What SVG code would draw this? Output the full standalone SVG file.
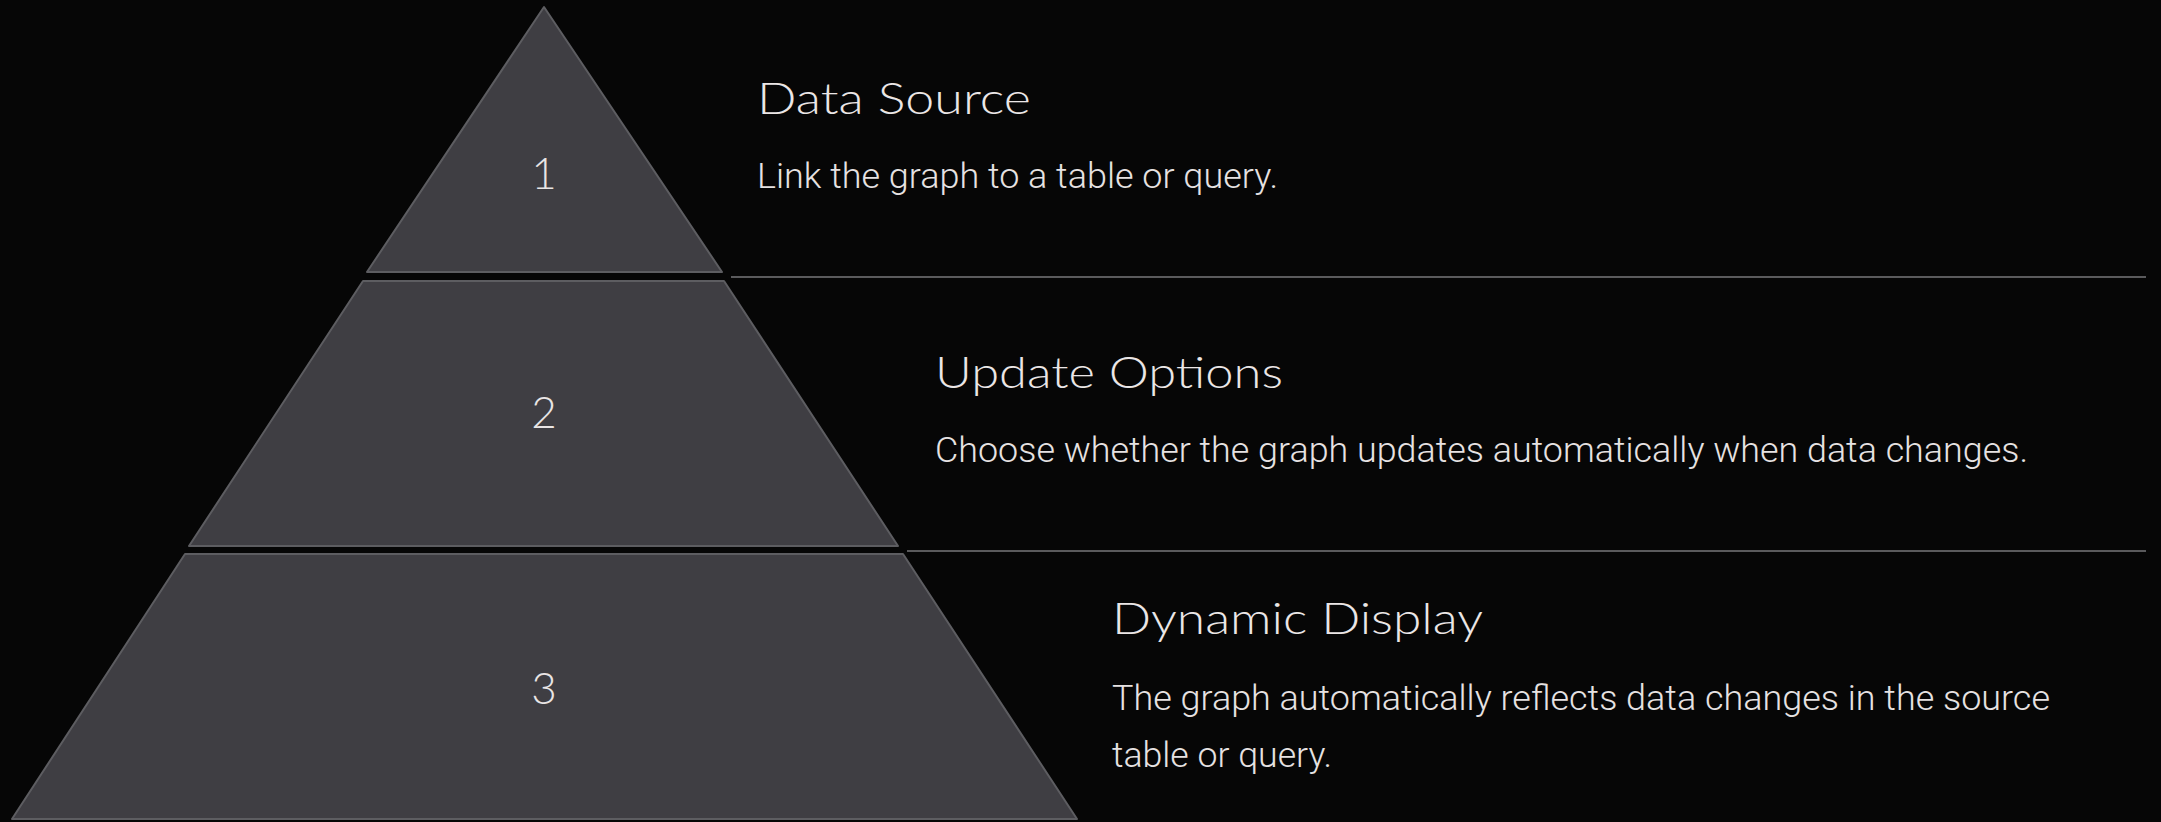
<svg xmlns="http://www.w3.org/2000/svg" width="2161" height="822" viewBox="0 0 2161 822">
<style>
.tier{fill:#3f3e43;stroke:#5d5d61;stroke-width:2;stroke-linejoin:round}
.num{font-family:"Lato","Noto Sans",sans-serif;font-weight:300;font-size:44px;fill:#e9e5e5;text-anchor:middle}
.title{font-family:"Lato","Inter","Noto Sans",sans-serif;font-weight:300;font-size:44px;fill:#ebe6e6}
.body{font-family:"Roboto","Liberation Sans",sans-serif;font-weight:300;font-size:35px;fill:#e6e2e2}
.sep{stroke:#5a5a5c;stroke-width:2}
</style>
<rect width="2161" height="822" fill="#060606"/>
<g id="tier1">
<polygon class="tier" points="544,7 722,272 367,272"/>
<text class="num" x="544" y="189">1</text>
</g>
<g id="tier2">
<polygon class="tier" points="363,281 724,281 898,546 189,546"/>
<text class="num" x="544" y="428">2</text>
</g>
<g id="tier3">
<polygon class="tier" points="185,554 903,554 1077,819 12,819"/>
<text class="num" x="544" y="704">3</text>
</g>
<g id="connectors">
<line class="sep" x1="731" y1="277" x2="2146" y2="277"/>
<line class="sep" x1="907" y1="551" x2="2146" y2="551"/>
</g>
<g id="label1">
<text class="title" x="757" y="114" textLength="274" lengthAdjust="spacingAndGlyphs">Data Source</text>
<text class="body" x="757" y="188" textLength="521" lengthAdjust="spacingAndGlyphs">Link the graph to a table or query.</text>
</g>
<g id="label2">
<text class="title" x="935" y="388" textLength="348" lengthAdjust="spacingAndGlyphs">Update Options</text>
<text class="body" x="935" y="462" textLength="1093" lengthAdjust="spacingAndGlyphs">Choose whether the graph updates automatically when data changes.</text>
</g>
<g id="label3">
<text class="title" x="1112" y="634" textLength="371" lengthAdjust="spacingAndGlyphs">Dynamic Display</text>
<text class="body" x="1112" y="710" textLength="938" lengthAdjust="spacingAndGlyphs">The graph automatically reflects data changes in the source</text>
<text class="body" x="1112" y="767" textLength="220" lengthAdjust="spacingAndGlyphs">table or query.</text>
</g>
</svg>
